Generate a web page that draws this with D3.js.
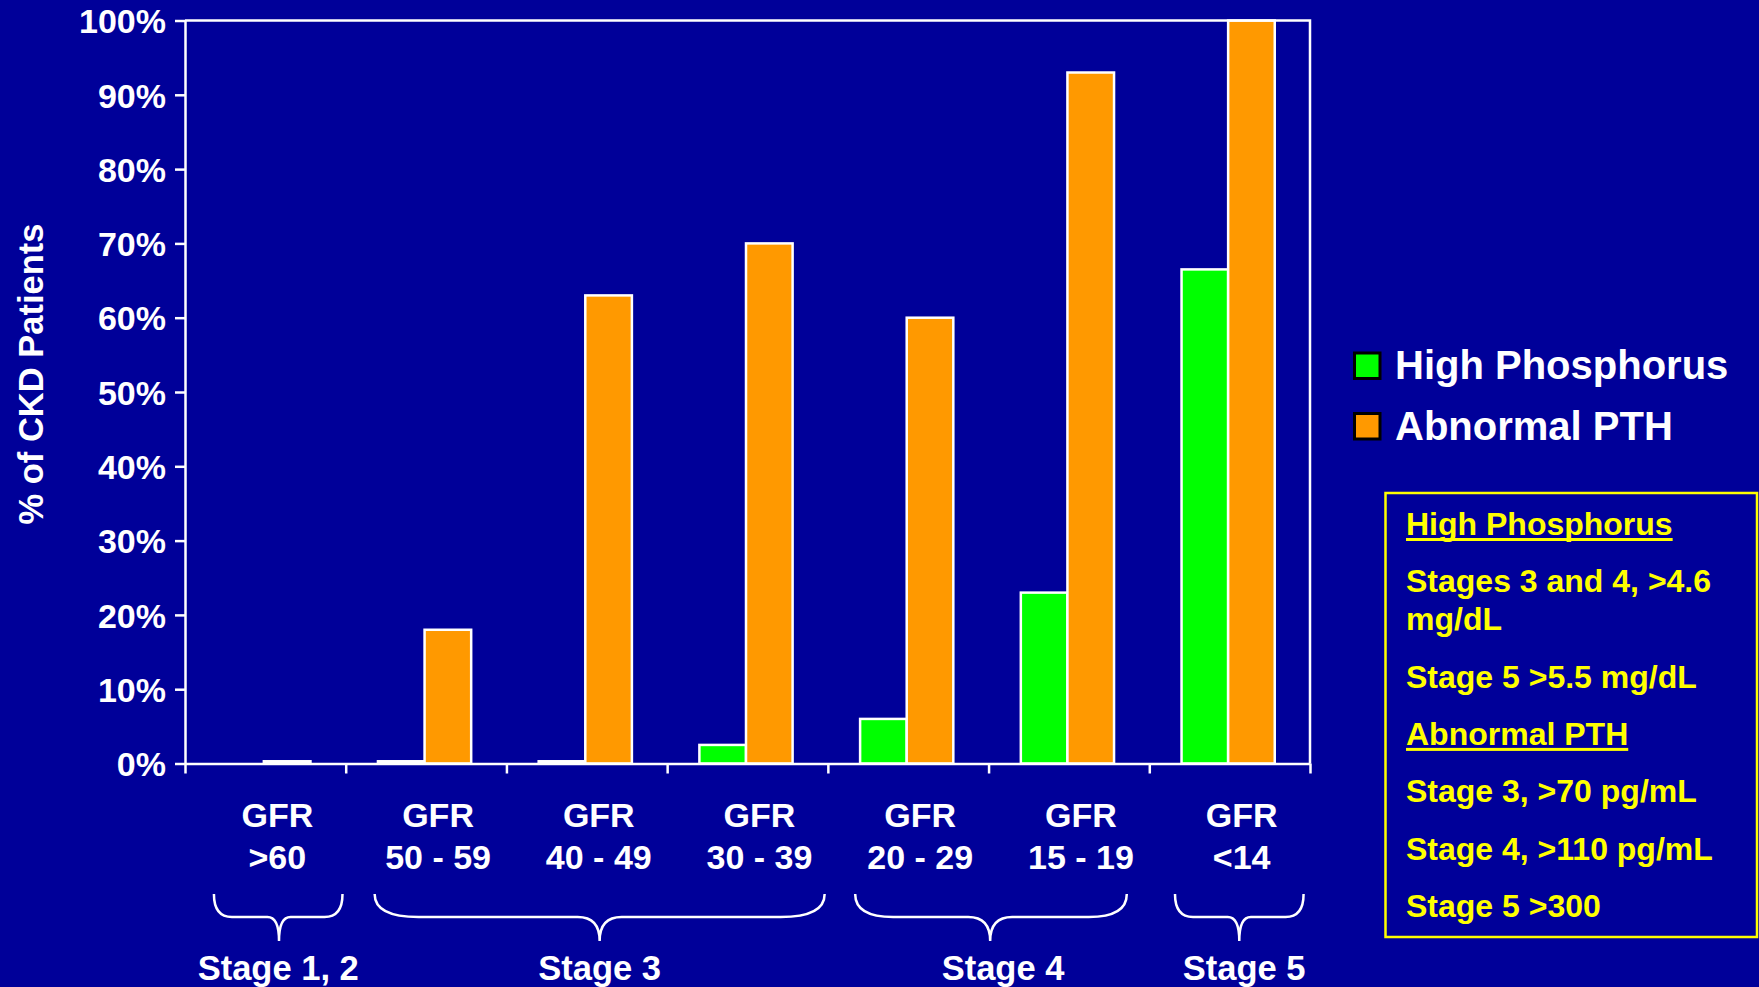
<!DOCTYPE html>
<html>
<head>
<meta charset="utf-8">
<script src="https://cdn.jsdelivr.net/npm/d3@7"></script>
<style>
  html, body { margin: 0; padding: 0; background: #000099; }
  svg { display: block; font-family: "Liberation Sans", Arial, sans-serif; font-weight: bold; }
</style>
</head>
<body>
<svg id="chart" width="1759" height="987"></svg>
<script>
// ---- data ----
const categoryTop = "GFR";
const categoryRanges = [">60", "50 - 59", "40 - 49", "30 - 39", "20 - 29", "15 - 19", "<14"];
const seriesNames = ["High Phosphorus", "Abnormal PTH"];
const highPhosphorus = [0, 0.3, 0.3, 2.5, 6, 23, 66.5];
const abnormalPTH = [0.3, 18, 63, 70, 60, 93, 100];
const yTickValues = [0, 10, 20, 30, 40, 50, 60, 70, 80, 90, 100];

// CKD stage groupings under the GFR categories (in category-index units)
const stageLabels = ["Stage 1, 2", "Stage 3", "Stage 4", "Stage 5"];
const stageStart = [0.18, 1.18, 4.17, 6.16];
const stageEnd = [0.98, 3.98, 5.86, 6.96];
const stageTip = [0.585, 2.58, 5.01, 6.56];
const stageLabelAt = [0.58, 2.58, 5.09, 6.59];

// definitions box
const definitionParagraphs = [
  ["High Phosphorus"],
  ["Stages 3 and 4, >4.6", "mg/dL"],
  ["Stage 5 >5.5 mg/dL"],
  ["Abnormal PTH"],
  ["Stage 3, >70 pg/mL"],
  ["Stage 4, >110 pg/mL"],
  ["Stage 5 >300"]
];
const definitionHeadings = [0, 3];

// ---- styling ----
const BG = "#000099";
const colors = { "High Phosphorus": "#00FF00", "Abnormal PTH": "#FF9900" };
const WHITE = "#FFFFFF";
const YELLOW = "#FFFF00";

const svg = d3.select("#chart");
svg.append("rect").attr("width", 1759).attr("height", 987).attr("fill", BG);

const plot = { left: 185, right: 1310, top: 20.5, bottom: 763.5 };

const y = d3.scaleLinear().domain([0, 100]).range([plot.bottom, plot.top]);
const xIdx = d3.scaleLinear().domain([0, categoryRanges.length]).range([plot.left, plot.right]);
const x0 = d3.scaleBand().domain(d3.range(categoryRanges.length))
  .range([plot.left - 1.5, plot.right - 1.5]).paddingInner(0.42).paddingOuter(0.21);
const x1 = d3.scaleBand().domain(seriesNames).range([0, x0.bandwidth()]);

const seriesValues = { "High Phosphorus": highPhosphorus, "Abnormal PTH": abnormalPTH };

// bars
const groups = svg.append("g").selectAll("g")
  .data(categoryRanges.map((c, i) => i))
  .join("g")
  .attr("transform", i => `translate(${x0(i)},0)`);

groups.selectAll("rect")
  .data(i => seriesNames.map(s => ({ s, v: seriesValues[s][i] })))
  .join("rect")
  .attr("x", d => x1(d.s))
  .attr("y", d => y(d.v))
  .attr("width", x1.bandwidth())
  .attr("height", d => y(0) - y(d.v))
  .attr("fill", d => colors[d.s])
  .attr("stroke", WHITE)
  .attr("stroke-width", 2.5);

// frame: top and right edges
svg.append("path")
  .attr("d", `M${plot.left},${y(100)} H${plot.right} V${y(0)}`)
  .attr("fill", "none").attr("stroke", WHITE).attr("stroke-width", 2.5);

// y axis
const yAxis = svg.append("g")
  .attr("transform", `translate(${plot.left},0)`)
  .call(d3.axisLeft(y).tickValues(yTickValues).tickFormat(d => d + "%")
    .tickSize(10).tickSizeOuter(0).tickPadding(9));
yAxis.select(".domain").attr("stroke", WHITE).attr("stroke-width", 2.5);
yAxis.selectAll(".tick line").attr("stroke", WHITE).attr("stroke-width", 2.5);
yAxis.selectAll(".tick text")
  .attr("fill", WHITE).attr("font-size", 34).attr("font-weight", "bold")
  .attr("font-family", "Liberation Sans, Arial, sans-serif").attr("dy", "0.36em");

// x axis with boundary ticks
const xAxis = svg.append("g")
  .attr("transform", `translate(0,${plot.bottom})`)
  .call(d3.axisBottom(xIdx).tickValues(d3.range(categoryRanges.length + 1))
    .tickFormat("").tickSize(10).tickSizeOuter(0));
xAxis.select(".domain").attr("stroke", WHITE).attr("stroke-width", 2.5);
xAxis.selectAll(".tick line").attr("stroke", WHITE).attr("stroke-width", 2.5);

// category labels
const catLabels = svg.append("g").attr("fill", WHITE).attr("font-size", 34).attr("text-anchor", "middle");
categoryRanges.forEach((r, i) => {
  const cx = xIdx(i + 0.5) + 12;
  catLabels.append("text").attr("x", cx).attr("y", 827).text(categoryTop);
  catLabels.append("text").attr("x", cx).attr("y", 869).text(r);
});

// y title
svg.append("text")
  .attr("transform", `translate(42.5,374) rotate(-90)`)
  .attr("text-anchor", "middle").attr("fill", WHITE).attr("font-size", 34.5)
  .text("% of CKD Patients");

// stage braces
function bracePath(xa, xb, xm, yTop, yMid, yTip, r, tr) {
  return `M${xa},${yTop} Q${xa},${yMid} ${xa + r},${yMid} L${xm - tr},${yMid} ` +
         `Q${xm},${yMid} ${xm},${yTip} Q${xm},${yMid} ${xm + tr},${yMid} ` +
         `L${xb - r},${yMid} Q${xb},${yMid} ${xb},${yTop}`;
}
const braces = svg.append("g");
stageLabels.forEach((lab, i) => {
  const xa = xIdx(stageStart[i]), xb = xIdx(stageEnd[i]), xm = xIdx(stageTip[i]);
  const w = xb - xa;
  const r = Math.min(44, w * 0.14);
  const tr = Math.min(22, w * 0.09);
  braces.append("path")
    .attr("d", bracePath(xa, xb, xm, 894, 917, 941, r, tr))
    .attr("fill", "none").attr("stroke", WHITE).attr("stroke-width", 2.5);
  braces.append("text")
    .attr("x", xIdx(stageLabelAt[i])).attr("y", 980)
    .attr("text-anchor", "middle").attr("fill", WHITE).attr("font-size", 34.5)
    .text(lab);
});

// legend
const legend = svg.append("g");
seriesNames.forEach((s, i) => {
  const yTop = 353 + i * 60.5;
  legend.append("rect")
    .attr("x", 1354.5).attr("y", yTop).attr("width", 25.5).attr("height", 25.5)
    .attr("fill", colors[s]).attr("stroke", "#000000").attr("stroke-width", 3);
  legend.append("text")
    .attr("x", 1395).attr("y", 379 + i * 60.5)
    .attr("fill", WHITE).attr("font-size", 40).text(s);
});

// definitions box
svg.append("rect")
  .attr("x", 1385.5).attr("y", 493).attr("width", 371.5).attr("height", 444)
  .attr("fill", "none").attr("stroke", YELLOW).attr("stroke-width", 2.5);

const defs = svg.append("g").attr("fill", YELLOW).attr("font-size", 32);
let baseline = 535;
definitionParagraphs.forEach((lines, p) => {
  lines.forEach((line, k) => {
    if (k > 0) baseline += 38;
    const t = defs.append("text").attr("x", 1406).attr("y", baseline).text(line);
    if (definitionHeadings.includes(p)) {
      const len = t.node().getComputedTextLength();
      defs.append("rect").attr("x", 1406).attr("y", baseline + 3)
        .attr("width", len).attr("height", 3).attr("fill", YELLOW);
    }
  });
  baseline += 57.3;
});
</script>
</body>
</html>
